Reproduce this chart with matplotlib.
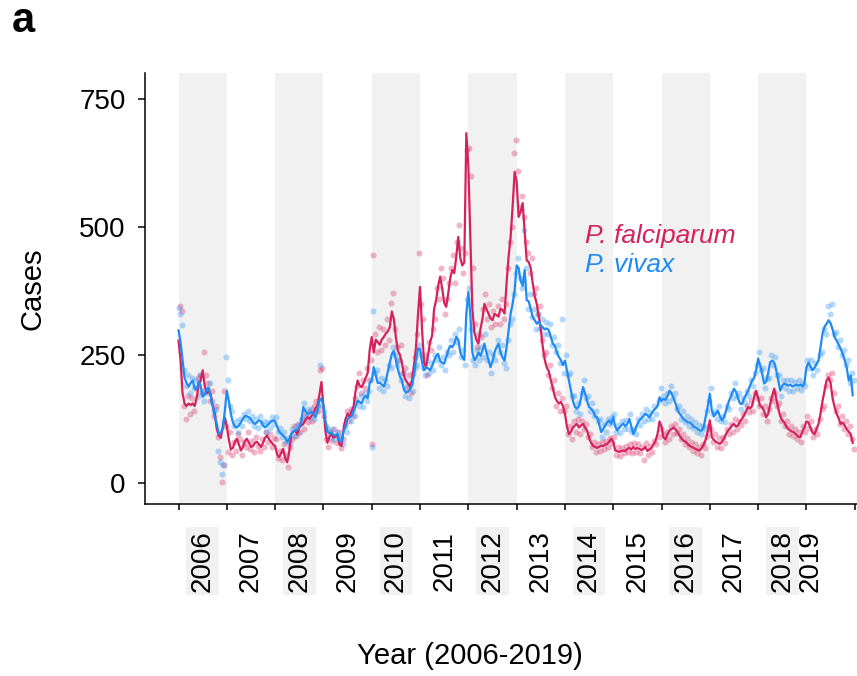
import matplotlib
matplotlib.use("Agg")
import matplotlib.pyplot as plt
import matplotlib.transforms as mtransforms
import numpy as np

plt.rcParams["font.family"] = ["Liberation Sans", "DejaVu Sans"]

YEARS = list(range(2006, 2020))
YEAR_LABELS = [str(y) for y in YEARS]
SHADED_YEARS = [2006, 2008, 2010, 2012, 2014, 2016, 2018]
Y_TICKS = [0, 250, 500, 750]
STEPS_PER_YEAR = 24  # half-month steps

# smoothed P. falciparum cases, one row per year
falc_line = [
    [278, 240, 175, 155, 150, 155, 152, 155, 150, 165, 190, 200, 220, 190, 175, 178, 172, 150, 135, 105, 92, 88, 110, 127],
    [110, 85, 65, 68, 80, 86, 75, 63, 70, 82, 86, 78, 70, 72, 78, 80, 75, 70, 78, 88, 92, 85, 80, 75],
    [72, 55, 50, 58, 66, 48, 40, 60, 95, 100, 102, 95, 108, 112, 115, 122, 128, 125, 130, 135, 145, 150, 172, 197],
    [150, 100, 78, 90, 96, 88, 90, 92, 75, 72, 105, 125, 135, 128, 140, 150, 180, 200, 190, 187, 195, 205, 215, 260],
    [285, 255, 280, 275, 270, 280, 285, 292, 296, 305, 335, 320, 285, 258, 250, 235, 210, 200, 194, 188, 200, 230, 265, 330],
    [383, 300, 235, 226, 250, 275, 288, 340, 357, 385, 403, 380, 352, 344, 370, 400, 416, 410, 442, 481, 440, 425, 431, 684],
    [620, 480, 340, 295, 280, 272, 300, 320, 350, 340, 331, 322, 318, 330, 328, 325, 340, 338, 331, 390, 442, 480, 540, 608],
    [590, 520, 530, 547, 490, 435, 432, 420, 390, 365, 350, 325, 300, 265, 240, 225, 218, 200, 185, 168, 160, 155, 158, 150],
    [135, 110, 95, 100, 108, 112, 115, 108, 112, 115, 108, 102, 88, 78, 72, 70, 68, 70, 72, 72, 74, 76, 80, 86],
    [80, 63, 62, 60, 62, 63, 62, 66, 68, 65, 70, 66, 68, 66, 64, 66, 70, 62, 65, 68, 75, 82, 95, 120],
    [110, 88, 85, 95, 102, 105, 108, 104, 98, 92, 86, 82, 80, 76, 72, 70, 68, 66, 64, 63, 68, 75, 85, 100],
    [122, 89, 84, 80, 78, 76, 80, 86, 95, 102, 106, 112, 115, 110, 112, 120, 125, 132, 140, 148, 145, 150, 168, 180],
    [165, 150, 148, 140, 128, 135, 154, 170, 184, 165, 145, 130, 122, 118, 110, 105, 102, 100, 98, 94, 90, 89, 100, 108],
    [120, 118, 108, 98, 95, 105, 115, 135, 160, 180, 200, 206, 195, 165, 148, 135, 126, 115, 118, 112, 105, 100, 95, 78],
]

# smoothed P. vivax cases, one row per year
vivax_line = [
    [298, 275, 240, 205, 195, 188, 195, 200, 185, 182, 198, 190, 168, 172, 182, 186, 170, 150, 130, 115, 96, 98, 105, 140],
    [180, 160, 135, 118, 110, 108, 112, 118, 125, 131, 130, 128, 124, 118, 115, 118, 122, 120, 112, 108, 112, 116, 120, 122],
    [120, 110, 100, 96, 92, 88, 80, 85, 96, 100, 102, 104, 108, 120, 148, 140, 135, 136, 138, 135, 128, 140, 160, 165],
    [150, 122, 100, 96, 98, 94, 92, 96, 82, 80, 100, 110, 125, 128, 130, 140, 150, 160, 158, 155, 165, 170, 165, 195],
    [200, 226, 210, 195, 196, 192, 188, 200, 218, 235, 252, 258, 240, 222, 208, 200, 182, 176, 178, 182, 190, 210, 240, 262],
    [262, 235, 220, 225, 224, 220, 228, 239, 248, 252, 238, 235, 233, 245, 259, 268, 265, 272, 285, 280, 255, 246, 240, 330],
    [373, 330, 255, 240, 245, 255, 248, 258, 272, 255, 240, 226, 238, 255, 265, 272, 255, 245, 239, 265, 298, 330, 350, 376],
    [425, 420, 395, 385, 416, 357, 355, 340, 324, 318, 311, 315, 308, 304, 300, 302, 298, 285, 272, 268, 255, 246, 240, 230],
    [239, 220, 200, 180, 160, 148, 145, 150, 165, 187, 175, 160, 148, 145, 140, 130, 128, 115, 99, 105, 112, 118, 122, 115],
    [128, 110, 102, 108, 112, 116, 110, 115, 125, 110, 95, 105, 115, 122, 126, 130, 135, 132, 128, 135, 141, 145, 150, 167],
    [160, 164, 162, 170, 180, 175, 165, 155, 141, 135, 130, 124, 122, 118, 118, 115, 110, 108, 105, 102, 102, 110, 130, 150],
    [174, 141, 130, 135, 141, 130, 122, 128, 140, 154, 165, 174, 184, 178, 165, 155, 154, 165, 172, 180, 190, 200, 205, 220],
    [243, 230, 213, 194, 198, 215, 236, 239, 235, 220, 200, 180, 190, 194, 192, 190, 192, 188, 190, 192, 190, 192, 188, 195],
    [226, 235, 228, 220, 225, 232, 239, 265, 292, 305, 311, 318, 312, 300, 285, 278, 270, 262, 252, 240, 226, 200, 210, 171],
]

# observed P. falciparum counts (points), one row per year
falc_points = [
    [345, 335, 150, 125, 170, 135, 165, 140, 185, 205, 210, 175, 255, 210, 195, 160, 180, 130, 150, 90, 51, 2, 180, 110],
    [60, 100, 55, 80, 62, 95, 85, 55, 78, 70, 100, 65, 82, 60, 90, 72, 62, 85, 70, 100, 80, 95, 70, 88],
    [85, 48, 62, 45, 75, 55, 30, 70, 85, 110, 92, 115, 100, 125, 105, 135, 118, 140, 120, 150, 160, 140, 221, 225],
    [130, 85, 70, 100, 82, 105, 78, 100, 68, 85, 115, 140, 120, 145, 130, 165, 190, 215, 175, 200, 185, 225, 200, 240],
    [446, 290, 255, 305, 260, 300, 270, 320, 280, 352, 371, 300, 265, 240, 270, 215, 225, 185, 210, 175, 215, 245, 290, 450],
    [350, 320, 250, 210, 275, 260, 300, 320, 380, 360, 420, 400, 330, 360, 390, 420, 445, 390, 470, 504, 460, 410, 450, 650],
    [654, 600, 420, 310, 265, 290, 285, 340, 370, 320, 350, 305, 335, 310, 345, 310, 360, 320, 350, 420, 470, 500, 646, 671],
    [610, 540, 560, 520, 470, 450, 410, 440, 370, 380, 330, 345, 280, 250, 255, 210, 230, 185, 200, 150, 175, 140, 165, 140],
    [150, 95, 110, 85, 120, 100, 125, 95, 120, 105, 115, 90, 95, 70, 80, 60, 75, 62, 80, 65, 82, 70, 88, 78],
    [90, 55, 70, 52, 68, 58, 72, 60, 75, 58, 78, 60, 75, 58, 70, 45, 78, 55, 72, 60, 82, 75, 90, 105],
    [95, 80, 100, 85, 110, 95, 115, 98, 105, 85, 95, 75, 88, 70, 80, 62, 75, 58, 70, 55, 75, 68, 92, 110],
    [105, 80, 95, 70, 88, 68, 90, 78, 105, 95, 115, 100, 125, 105, 120, 112, 135, 120, 150, 138, 160, 140, 175, 165],
    [150, 165, 135, 150, 120, 145, 165, 160, 175, 150, 155, 120, 135, 110, 120, 95, 110, 92, 105, 85, 100, 80, 110, 100],
    [130, 108, 120, 90, 105, 95, 125, 145, 150, 190, 210, 200, 215, 175, 140, 150, 115, 130, 105, 120, 95, 110, 85, 66],
]

# observed P. vivax counts (points), one row per year
vivax_points = [
    [330, 309, 220, 190, 210, 175, 205, 185, 200, 170, 210, 180, 160, 185, 175, 195, 160, 140, 145, 63, 41, 18, 120, 246],
    [200, 150, 140, 110, 120, 100, 125, 110, 135, 125, 140, 120, 130, 110, 125, 108, 130, 115, 120, 100, 118, 108, 128, 115],
    [128, 100, 108, 90, 100, 80, 88, 78, 105, 92, 110, 98, 115, 125, 155, 130, 145, 128, 145, 125, 140, 150, 231, 150],
    [140, 110, 105, 88, 105, 85, 100, 88, 90, 75, 110, 100, 135, 120, 140, 130, 160, 150, 170, 148, 175, 160, 180, 200],
    [336, 215, 220, 185, 205, 180, 200, 190, 230, 225, 265, 250, 230, 240, 200, 215, 170, 190, 165, 195, 180, 225, 230, 270],
    [250, 225, 210, 240, 215, 235, 220, 250, 240, 265, 230, 245, 220, 255, 250, 280, 255, 290, 275, 300, 245, 260, 230, 360],
    [380, 300, 240, 230, 260, 240, 265, 245, 290, 240, 255, 215, 250, 240, 280, 255, 270, 235, 225, 280, 310, 320, 370, 410],
    [440, 400, 380, 494, 420, 340, 370, 325, 340, 300, 330, 300, 320, 290, 315, 290, 310, 270, 285, 255, 270, 235, 321, 215],
    [250, 210, 215, 170, 170, 140, 155, 135, 175, 200, 165, 170, 140, 155, 130, 140, 120, 125, 90, 115, 100, 125, 115, 128],
    [135, 100, 112, 98, 120, 105, 122, 105, 135, 100, 105, 95, 125, 112, 135, 120, 145, 125, 138, 125, 150, 135, 160, 185],
    [170, 155, 175, 160, 190, 165, 175, 145, 150, 125, 140, 118, 130, 110, 125, 108, 118, 100, 112, 95, 110, 105, 140, 160],
    [185, 135, 140, 125, 150, 120, 130, 118, 150, 145, 175, 165, 195, 170, 175, 145, 165, 155, 180, 170, 200, 190, 215, 230],
    [255, 220, 225, 185, 205, 205, 250, 230, 245, 210, 210, 170, 200, 185, 200, 180, 200, 180, 198, 185, 200, 182, 195, 190],
    [240, 225, 240, 210, 235, 220, 250, 255, 300, 290, 345, 330, 350, 290, 295, 265, 280, 250, 260, 230, 240, 195, 215, 200],
]

# a few extra outlying observations
falc_extra_t = [2006.94, 2010.01]
falc_extra_v = [35, 76]
vivax_extra_t = [2006.0, 2006.93, 2010.01]
vivax_extra_v = [342, 35, 69]

FALC_COLOR = "#D6215B"
VIVAX_COLOR = "#1E8BF5"
BAND_COLOR = "#F1F1F1"


def flatten(rows):
    return np.array([v for row in rows for v in row], dtype=float)


def main():
    f_line = flatten(falc_line)
    v_line = flatten(vivax_line)
    f_pts = flatten(falc_points)
    v_pts = flatten(vivax_points)
    t_line = YEARS[0] + np.arange(len(f_line)) / STEPS_PER_YEAR
    t_pts = YEARS[0] + (np.arange(len(f_pts)) + 0.5) / STEPS_PER_YEAR

    fig = plt.figure(figsize=(8.57, 6.76), dpi=100)
    ax = fig.add_axes([0.1692, 0.2544, 0.8308, 0.6372])

    # alternate-year shading
    for yr in SHADED_YEARS:
        ax.axvspan(yr, yr + 1, color=BAND_COLOR, lw=0, zorder=0)

    pt_kw = dict(s=19, alpha=0.33, lw=0, zorder=2)
    ax.scatter(t_pts, f_pts, color=FALC_COLOR, **pt_kw)
    ax.scatter(falc_extra_t, falc_extra_v, color=FALC_COLOR, **pt_kw)
    ax.scatter(t_pts, v_pts, color=VIVAX_COLOR, **pt_kw)
    ax.scatter(vivax_extra_t, vivax_extra_v, color=VIVAX_COLOR, **pt_kw)

    ax.plot(t_line, f_line, color=FALC_COLOR, lw=1.6, zorder=3)
    ax.plot(t_line, v_line, color=VIVAX_COLOR, lw=1.6, zorder=3)

    ax.text(2014.42, 469, "P. falciparum", color=FALC_COLOR, fontsize=19,
            style="italic", va="baseline", ha="left")
    ax.text(2014.42, 412, "P. vivax", color=VIVAX_COLOR, fontsize=19,
            style="italic", va="baseline", ha="left")

    ax.set_xlim(2005.306, 2020.047)
    ax.set_ylim(-41.7, 801)

    ax.set_yticks(Y_TICKS)
    ax.set_yticklabels([str(v) for v in Y_TICKS], fontsize=20)
    ax.set_xticks(list(range(2006, 2021)))
    ax.set_xticklabels([])
    ax.tick_params(axis="y", length=5, width=1.1, pad=9)
    ax.tick_params(axis="x", length=4, width=1.1)

    for side in ["top", "right"]:
        ax.spines[side].set_visible(False)
    for side in ["left", "bottom"]:
        ax.spines[side].set_linewidth(1.1)

    # year labels sit at mid-year, even years on a grey box
    trans = mtransforms.blended_transform_factory(ax.transData, ax.transAxes)
    for yr, lab in zip(YEARS, YEAR_LABELS):
        xpos = yr + 0.5 if yr < 2019 else yr + 0.08
        box = None
        if yr in SHADED_YEARS:
            box = dict(boxstyle="square,pad=0.12", fc=BAND_COLOR, ec="none")
        ax.text(xpos, -0.1323, lab, transform=trans, rotation=90, fontsize=20,
                ha="center", va="center", bbox=box)

    fig.text(33 / 857, 1 - 289 / 676, "Cases", rotation=90, fontsize=21,
             ha="center", va="center")
    fig.text(470 / 857, 1 - 656 / 676, "Year (2006-2019)", fontsize=21,
             ha="center", va="center")
    fig.text(12 / 857, 1 - 32 / 676, "a", fontsize=30, fontweight="bold",
             ha="left", va="baseline")

    fig.savefig("out.png", dpi=100)


if __name__ == "__main__":
    main()
